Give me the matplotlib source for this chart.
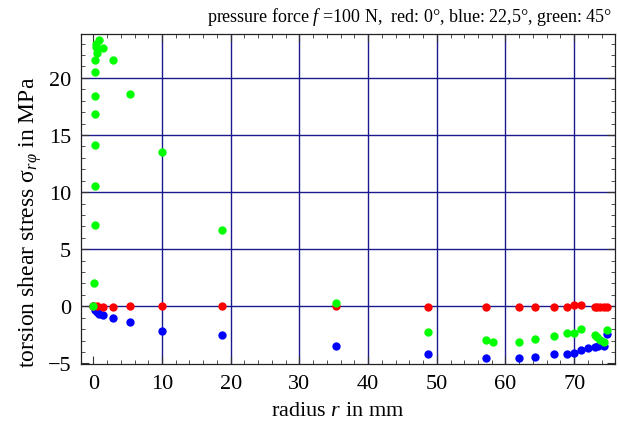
import matplotlib
matplotlib.use("Agg")
import matplotlib.pyplot as plt
from matplotlib.ticker import MultipleLocator

plt.rcParams['font.family'] = ['Liberation Serif', 'DejaVu Serif']
plt.rcParams['mathtext.fontset'] = 'custom'
plt.rcParams['mathtext.rm'] = 'Liberation Serif'
plt.rcParams['mathtext.it'] = 'Liberation Serif:italic'
plt.rcParams['mathtext.bf'] = 'Liberation Serif:bold'

# ---- data (radius in mm, stress in MPa) ----
red_r = [0.0, 0.5, 1.46, 2.9, 5.4, 10.0, 18.7, 35.4, 48.7, 57.2, 61.9, 64.3,
         67.0, 69.0, 70.0, 71.0, 73.0, 73.3, 73.8, 74.4, 74.8]
red_s = [0.0, 0.0, -0.05, -0.05, 0.05, 0.05, 0.05, 0.0, -0.05, -0.05, -0.05,
         -0.05, -0.05, -0.03, 0.1, 0.1, -0.05, -0.05, -0.05, -0.05, -0.05]

blue_r = [0.0, 0.25, 0.5, 0.87, 1.46, 2.9, 5.4, 10.0, 18.7, 35.4, 48.7, 57.2,
          61.9, 64.3, 67.0, 69.0, 70.0, 71.0, 72.0, 73.0, 73.5, 74.4, 74.8]
blue_s = [0.0, -0.35, -0.53, -0.7, -0.79, -1.05, -1.4, -2.16, -2.5, -3.47,
          -4.2, -4.52, -4.5, -4.45, -4.2, -4.2, -4.12, -3.85, -3.68, -3.59,
          -3.45, -3.48, -2.45]

green_r = [0.0, 0.15, 0.2, 0.2, 0.25, 0.25, 0.25, 0.25, 0.25, 0.5, 0.4, 0.45,
           0.87, 1.46, 2.9, 5.4, 10.0, 18.7, 35.4, 48.7, 57.2, 58.2, 61.9,
           64.3, 67.0, 69.0, 70.0, 71.0, 73.0, 73.3, 73.8, 74.4, 74.8]
green_s = [0.0, 2.0, 7.1, 10.5, 14.1, 16.8, 18.4, 20.5, 21.6, 22.15, 22.7,
           23.0, 23.3, 22.6, 21.6, 18.6, 13.5, 6.7, 0.3, -2.25, -2.95, -3.15,
           -3.1, -2.86, -2.63, -2.37, -2.37, -2.02, -2.52, -2.72, -2.93,
           -3.15, -2.1]

x_grid = [10, 20, 30, 40, 50, 60, 70]
y_grid = [0, 5, 10, 15, 20]

W, H = 618, 427
fig = plt.figure(figsize=(W/100, H/100), dpi=100)
ax = fig.add_axes([81/W, 62/H, (615-81)/W, (365-35)/H])

for xv in x_grid:
    ax.axvline(xv, color='#1a1a8c', lw=1.0, zorder=1)
for yv in y_grid:
    ax.axhline(yv, color='#1a1a8c', lw=1.0, zorder=1)

ms = 36
ax.scatter(blue_r, blue_s, s=ms, color='#0000ff', linewidths=0, zorder=3)
ax.scatter(red_r, red_s, s=ms, color='#ff0000', linewidths=0, zorder=3)
ax.scatter(green_r, green_s, s=ms, color='#00ff00', linewidths=0, zorder=3)

ax.set_xlim(-1.79, 75.94)
ax.set_ylim(-5.05, 23.84)
ax.xaxis.set_major_locator(MultipleLocator(10))
ax.xaxis.set_minor_locator(MultipleLocator(2))
ax.yaxis.set_major_locator(MultipleLocator(5))
ax.yaxis.set_minor_locator(MultipleLocator(1))
ax.tick_params(which='both', direction='in', top=True, right=True,
               color='#333333', labelsize=16, pad=7)
ax.tick_params(which='major', length=6, width=0.8)
ax.tick_params(which='minor', length=3, width=0.6)
ax.set_yticks([-5, 0, 5, 10, 15, 20])
ax.set_yticklabels(['\u22125', '0', '5', '10', '15', '20'])
for sp in ax.spines.values():
    sp.set_color('#222222')
    sp.set_linewidth(0.9)

fig.text(338/W, 1 - 416/H, 'radius $r$ in mm', fontsize=16,
         ha='center', va='baseline')
fig.text(30/W, 1 - 222/H, 'torsion shear stress \u03c3$_{r\u03c6}$ in MPa',
         fontsize=17, rotation=90, ha='center', va='center')
fig.text(612/W, 1 - 22/H,
         'pressure force $f$ =100 N,  red: 0\u00b0, blue: 22,5\u00b0, green: 45\u00b0',
         ha='right', va='baseline', fontsize=13)

fig.savefig('out.png', dpi=100)
